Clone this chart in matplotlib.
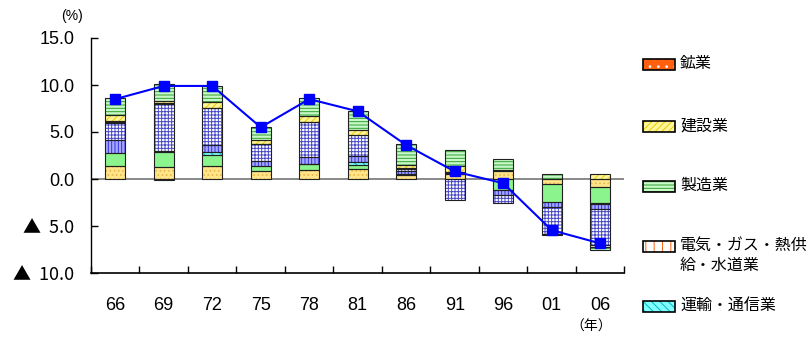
import numpy as np
import matplotlib
matplotlib.use("Agg")
import matplotlib.pyplot as plt
from matplotlib.patches import Rectangle

plt.rcParams['font.family'] = ['Liberation Sans', 'Noto Sans CJK JP', 'DejaVu Sans']
plt.rcParams['hatch.linewidth'] = 0.7

# data (percentage points), stacked bottom -> top
years = ['66', '69', '72', '75', '78', '81', '86', '91', '96', '01', '06']
fudosan = [1.4, 1.25, 1.4, 0.8, 0.95, 1.05, 0.4, 0.5, 0.85, -0.55, -0.8]
kinyu = [1.37, 1.6, 1.15, 0.6, 0.6, 0.45, 0.15, 0.1, -1.15, -1.85, -1.75]
unyu = [0.0, 0.15, 0.3, 0.0, 0.05, 0.35, 0.0, 0.0, 0.0, 0.0, -0.1]
oroshi = [1.38, 0.0, 0.75, 0.5, 0.7, 0.55, 0.25, 0.05, -0.5, -0.6, -0.55]
service = [1.85, 5.0, 3.95, 1.8, 3.75, 2.3, 0.25, -2.2, -0.85, -2.8, -3.8]
denki = [0.1, 0.05, 0.05, 0.05, 0.05, 0.0, 0.1, 0.1, 0.1, -0.2, -0.25]
kogyo = [0.05, -0.1, 0.0, 0.0, 0.0, 0.0, 0.0, 0.0, 0.0, 0.0, 0.0]
kensetsu = [0.7, 0.3, 0.55, 0.45, 0.6, 0.5, 0.3, 0.6, 0.0, 0.0, 0.55]
seizo = [1.75, 1.75, 1.75, 1.35, 1.95, 2.05, 2.25, 1.75, 1.2, 0.55, -0.3]
total = [8.5, 9.9, 9.9, 5.5, 8.5, 7.2, 3.6, 0.8, -0.45, -5.45, -6.85]

# (values, facecolor, hatch, hatch colour)
series = [
    (fudosan, '#FFE48A', '....', '#E8B84A'),
    (kinyu, '#8CF48C', '', '#8CF48C'),
    (unyu, '#80FFFF', '\\\\\\\\', '#00B8C8'),
    (oroshi, '#A8A8FF', '|||||', '#3030E0'),
    (service, '#FFFFFF', '+++++', '#4848C8'),
    (denki, '#FFFFFF', '||', '#FF6010'),
    (kogyo, '#FF6010', '..', '#FFFFFF'),
    (kensetsu, '#FFF79A', '/////', '#F0C800'),
    (seizo, '#C8F8C8', '-----', '#30A030'),
]

fig = plt.figure(figsize=(8.12, 3.4), dpi=100)
ax = fig.add_axes([91 / 812, 1 - 273 / 340, (624.5 - 91) / 812, (273 - 38) / 340])

x = np.arange(len(years))
w = 0.41
pos_bottom = np.zeros(len(years))
neg_bottom = np.zeros(len(years))
for vals, fc, h, hc in series:
    v = np.array(vals, dtype=float)
    for part, bottom in ((np.clip(v, 0, None), pos_bottom), (np.clip(v, None, 0), neg_bottom)):
        m = part != 0
        if m.any():
            ax.bar(x[m], part[m], bottom=bottom[m], width=w, facecolor=fc,
                   edgecolor=hc, hatch=h, linewidth=0, zorder=2)
            ax.bar(x[m], part[m], bottom=bottom[m], width=w, fill=False,
                   edgecolor='#202020', linewidth=0.8, zorder=3)
        bottom += part

ax.axhline(0, color='#808080', lw=1.3, zorder=1)
ax.plot(x, total, color='#0000FF', lw=1.5, marker='s', markersize=7.5,
        markerfacecolor='#0000FF', markeredgecolor='#0000FF', zorder=5)

ax.set_xlim(-0.5, len(years) - 0.5)
ax.set_ylim(-10, 15)
ax.set_yticks([15, 10, 5, 0, -5, -10])
ax.set_yticklabels(['15.0', '10.0', '5.0', '0.0', '▲  5.0', '▲  10.0'], fontsize=13)
for lab in ax.get_yticklabels():
    if lab.get_text().startswith('▲'):
        lab.set_family(['Noto Sans CJK JP', 'DejaVu Sans'])
ax.set_xticks(x)
ax.set_xticklabels(years, fontsize=13)
ax.set_xticks(np.arange(len(years) + 1) - 0.5, minor=True)
ax.tick_params(axis='x', which='major', length=0, pad=17)
ax.tick_params(axis='x', which='minor', direction='in', length=5, width=1)
ax.tick_params(axis='y', direction='in', length=5, width=1, pad=12)
ax.spines['top'].set_visible(False)
ax.spines['right'].set_visible(False)
ax.spines['left'].set_linewidth(1)
ax.spines['bottom'].set_linewidth(1.2)

fig.text(72 / 812, 1 - 16 / 340, '(%)', fontsize=10, ha='center', va='center')
fig.text(591 / 812, 1 - 327 / 340, '（年）', fontsize=10, ha='center', va='center')

# legend (only first five entries shown in the original)
legend_items = [
    ('鉱業', 64, series[6]),
    ('建設業', 127, series[7]),
    ('製造業', 186, series[8]),
    ('電気・ガス・熱供\n給・水道業', 246, series[5]),
    ('運輸・通信業', 306, series[2]),
]
for label, yp, (_, fc, h, hc) in legend_items:
    rx, ry, rw, rh = 643 / 812, 1 - (yp + 5.5) / 340, 32 / 812, 11 / 340
    fig.add_artist(Rectangle((rx, ry), rw, rh, transform=fig.transFigure,
                             facecolor=fc, edgecolor=hc, hatch=h, linewidth=0))
    fig.add_artist(Rectangle((rx, ry), rw, rh, transform=fig.transFigure,
                             fill=False, edgecolor='black', linewidth=1.2))
    fig.text(680 / 812, 1 - (yp - 9) / 340, label, fontsize=11.5, ha='left', va='top',
             family=['Noto Sans CJK JP', 'DejaVu Sans'], linespacing=1.25)

fig.savefig('out.png', dpi=100)
